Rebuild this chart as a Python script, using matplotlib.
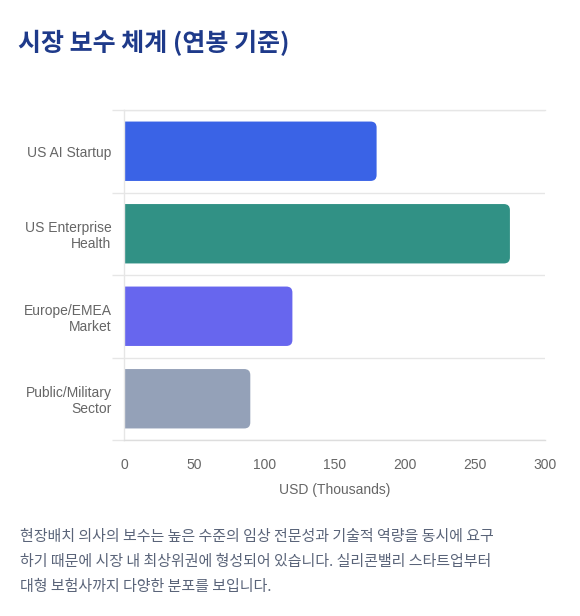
import numpy as np
import matplotlib.pyplot as plt
from matplotlib.patches import FancyBboxPatch

plt.rcParams['font.family'] = ['Liberation Sans', 'Noto Sans CJK KR', 'DejaVu Sans']

categories = ['US AI Startup', 'US Enterprise\nHealth', 'Europe/EMEA\nMarket', 'Public/Military\nSector']
salaries = [180, 275, 120, 90]
bar_colors = ['#3A63E6', '#319185', '#6766EE', '#94A1B8']
xticks = [0, 50, 100, 150, 200, 250, 300]

title = '시장 보수 체계 (연봉 기준)'
note_lines = [
    '현장배치 의사의 보수는 높은 수준의 임상 전문성과 기술적 역량을 동시에 요구',
    '하기 때문에 시장 내 최상위권에 형성되어 있습니다. 실리콘밸리 스타트업부터',
    '대형 보험사까지 다양한 분포를 보입니다.',
]

fig = plt.figure(figsize=(5.8, 6.16), dpi=100)
fig.patch.set_facecolor('white')
ax = fig.add_axes([124 / 580, 1 - 440 / 616, 421 / 580, 330 / 616])

ypos = np.arange(len(categories))
bars = ax.barh(ypos, salaries, height=0.72, color=bar_colors)
ax.set_xlim(0, 300)
ax.set_ylim(len(categories) - 0.5, -0.5)

# rounded right corners: swap each rectangle for a rounded box
fig.canvas.draw()
px_x = ax.transData.transform((1, 0))[0] - ax.transData.transform((0, 0))[0]
px_y = abs(ax.transData.transform((0, 1))[1] - ax.transData.transform((0, 0))[1])
aspect = px_x / px_y
r = 6 / px_x
for rect, c in zip(bars, bar_colors):
    rect.set_visible(False)
    x0, y0 = rect.get_x(), rect.get_y()
    w, h = rect.get_width(), rect.get_height()
    fb = FancyBboxPatch((x0 - 20, y0), w + 20, h,
                        boxstyle=f'round,pad=0,rounding_size={r}',
                        mutation_aspect=aspect, facecolor=c, edgecolor='none',
                        zorder=2)
    ax.add_patch(fb)

grid_c = '#E6E6E6'
ax.set_yticks(ypos)
ax.set_yticklabels(categories, fontsize=10, color='#666666', linespacing=1.2)
ax.set_yticks(np.arange(len(categories) + 1) - 0.5, minor=True)
ax.tick_params(axis='y', which='major', length=0, pad=9)
ax.tick_params(axis='y', which='minor', length=9, color=grid_c, width=1)
ax.grid(axis='y', which='minor', color=grid_c, linewidth=1)
ax.set_axisbelow(True)

ax.set_xticks(xticks)
ax.set_xticklabels([str(t) for t in xticks], fontsize=10, color='#666666')
ax.tick_params(axis='x', length=0, pad=13)
ax.set_xlabel('USD (Thousands)', fontsize=10, color='#666666', labelpad=8)

ax.spines['right'].set_visible(False)
for s in ['top', 'bottom', 'left']:
    ax.spines[s].set_color(grid_c)
    ax.spines[s].set_linewidth(1)
ax.spines['bottom'].set_color('#DDDDDD')

fig.text(18 / 580, 1 - 43 / 616, title, fontsize=18, fontweight='bold',
         color='#1E3A8A', va='center', ha='left',
         family=['Noto Sans CJK KR', 'DejaVu Sans'])

for i, line in enumerate(note_lines):
    fig.text(20 / 580, 1 - (537 + 25 * i) / 616, line, fontsize=10.8,
             color='#5A6479', va='center', ha='left',
             family=['Noto Sans CJK KR', 'DejaVu Sans'])

fig.savefig('out.png', dpi=100, facecolor='white')
